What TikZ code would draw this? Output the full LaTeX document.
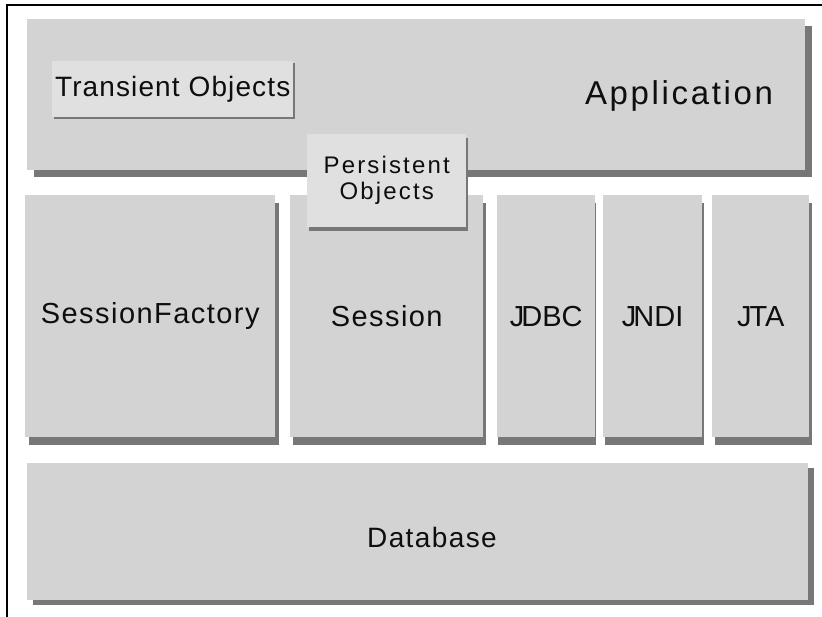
\documentclass[tikz,border=0pt]{standalone}
\usepackage{fontspec}
\setmainfont{Liberation Sans}
\usetikzlibrary{shadows}

\definecolor{boxgray}{HTML}{D3D3D3}
\definecolor{objgray}{HTML}{E0E0E0}
\definecolor{shadegray}{HTML}{777777}
\definecolor{inkgray}{HTML}{0E0E0E}

% font size in pt plus extra letter spacing
\newcommand\archfont[2]{\fontsize{#1}{#1}\selectfont\addfontfeature{LetterSpace=#2}}

\tikzset{
  layerbox/.style={fill=boxgray, draw=none, inner sep=0pt, anchor=north west,
                   text=inkgray, align=center},
  objbox/.style={layerbox, fill=objgray},
  dims/.style 2 args={minimum width=#1pt, minimum height=#2pt},
  castshadow/.style 2 args={drop shadow={shadow xshift=#1pt, shadow yshift=-#2pt,
                   fill=shadegray, opacity=1}},
  labeltext/.style={text=inkgray, inner sep=0pt, anchor=base},
}

\begin{document}
\begin{tikzpicture}[x=1pt, y=-1pt]
  \useasboundingbox (0,0) rectangle (822,616);
  \fill[white] (0,0) rectangle (822,616);

  % outer frame (open to the right and bottom)
  \draw[line width=2.6pt] (7,620) -- (7,5) -- (826,5);

  % application layer
  \node[layerbox, castshadow={7}{7}, dims={778}{151}] (app) at (27,19) {};
  \node[labeltext, font=\archfont{33}{8}] (appText) at (679,104) {Application};
  \node[objbox, castshadow={2}{2}, dims={241}{56}, font=\archfont{28}{4}]
    (transient) at (52,61) {Transient Objects};

  % middle row
  \node[layerbox, castshadow={4}{8}, dims={250}{242}, font=\archfont{29}{5}]
    (factory) at (25,195) {SessionFactory};
  \node[layerbox, castshadow={3}{8}, dims={193}{242}, font=\archfont{29}{5}]
    (session) at (290,195) {Session};
  \node[layerbox, castshadow={1}{8}, dims={98}{242}, font=\archfont{29}{0}]
    (jdbc) at (497,195) {J\kern-3pt DBC};
  \node[layerbox, castshadow={2}{8}, dims={99}{242}, font=\archfont{29}{0}]
    (jndi) at (603,195) {J\kern-3pt NDI};
  \node[layerbox, castshadow={3}{8}, dims={97}{242}, font=\archfont{29}{0}]
    (jta) at (712,195) {J\kern-2pt TA};

  % database layer
  \node[layerbox, castshadow={6}{5}, dims={781}{137}] (db) at (27,463) {};
  \node[labeltext, font=\archfont{28}{5}] (dbText) at (432,547) {Database};

  % persistent objects straddle application and session
  \node[objbox, castshadow={2}{4}, dims={159}{93},
        font={\archfont{24}{9}\baselineskip=26pt}]
    (persist) at (307,134) {Persistent\\Objects};
\end{tikzpicture}
\end{document}
